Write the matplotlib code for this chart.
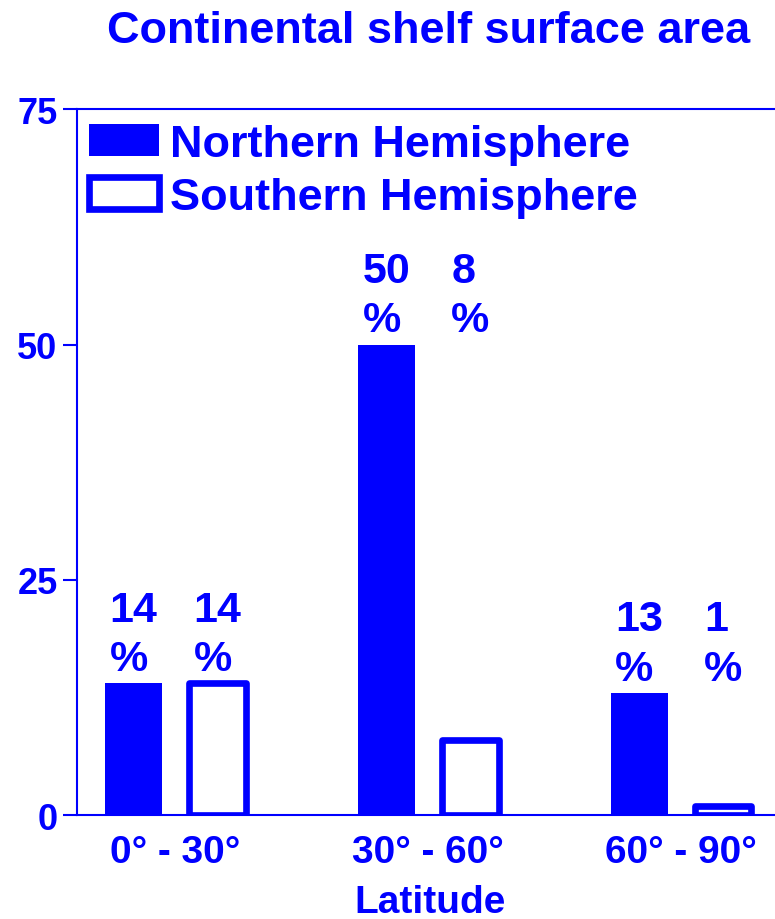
import matplotlib
matplotlib.use("Agg")
import matplotlib.pyplot as plt
import numpy as np

plt.rcParams['font.family'] = ['Liberation Sans', 'DejaVu Sans']
plt.rcParams['font.weight'] = 'bold'

BLUE = '#0000FF'

# Share of continental shelf surface area (%) by latitude band
latitude_bands = ['0° - 30°', '30° - 60°', '60° - 90°']
northern = [14, 50, 13]
southern = [14, 8, 1]
y_ticks = [0, 25, 50, 75]

fig = plt.figure(figsize=(7.75, 9.2), dpi=100)
ax = fig.add_axes([0.0994, 0.113, 0.9066, 0.767])

x = np.arange(len(latitude_bands))
width = 0.225
offset = 0.166

ax.bar(x - offset, northern, width, color=BLUE, edgecolor='none',
       label='Northern Hemisphere', zorder=2)
ax.bar(x + offset, southern, width, facecolor='white', edgecolor=BLUE,
       linewidth=4.8, joinstyle='round', label='Southern Hemisphere', zorder=2)

# Value labels, stacked number over percent sign, above each group
for i in range(len(x)):
    top = max(northern[i], southern[i])
    for xpos, val in ((x[i] - offset, northern[i]), (x[i] + offset, southern[i])):
        ax.annotate(f'{val}\n%', xy=(xpos, top), xytext=(0, 3),
                    textcoords='offset points', ha='center', va='bottom',
                    multialignment='left', linespacing=1.3,
                    fontsize=31, fontweight='bold', color=BLUE)

ax.set_xlim(-0.39, 2.39)
ax.set_ylim(0, 75)
ax.set_yticks(y_ticks)
ax.set_yticklabels([str(t) for t in y_ticks])
ax.set_xticks(x)
ax.set_xticklabels(latitude_bands)

ax.tick_params(axis='y', direction='out', length=10, width=1.5, color=BLUE,
               labelcolor=BLUE, labelsize=26, pad=4)
ax.tick_params(axis='x', length=0, labelcolor=BLUE, labelsize=28, pad=14)

for side in ('left', 'top', 'bottom'):
    ax.spines[side].set_color(BLUE)
    ax.spines[side].set_linewidth(1.5)
ax.spines['right'].set_visible(False)

ax.set_xlabel('Latitude', fontsize=28, fontweight='bold', color=BLUE,
              va='baseline')
ax.xaxis.set_label_coords(0.502, -0.1375)

fig.text(428.5 / 775, 1 - 43 / 920, 'Continental shelf surface area',
         ha='center', va='baseline', fontsize=32.5, fontweight='bold',
         color=BLUE)

leg = ax.legend(loc='upper left', bbox_to_anchor=(0.017, 0.98), frameon=False,
                fontsize=32.5, handlelength=1.55, handleheight=0.72,
                handletextpad=0.25, labelspacing=0.28, borderpad=0,
                borderaxespad=0)
for t in leg.get_texts():
    t.set_color(BLUE)
    t.set_fontweight('bold')

fig.savefig('out.png', dpi=100)
